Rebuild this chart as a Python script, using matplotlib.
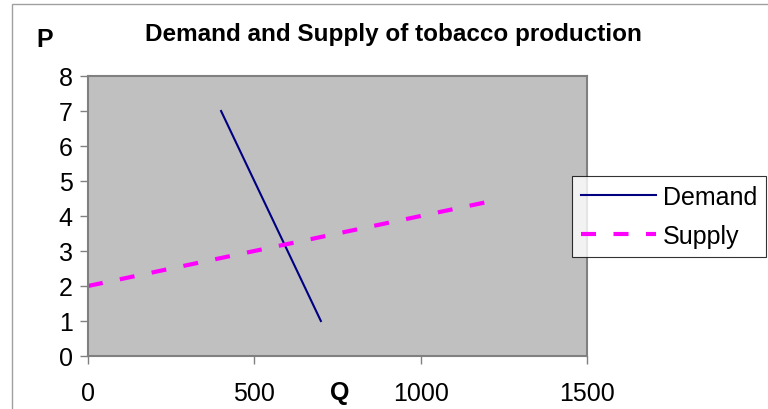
import matplotlib
matplotlib.use('Agg')
from matplotlib import pyplot as plt
from matplotlib.patches import Rectangle

plt.rcParams['font.family'] = ['Liberation Sans', 'DejaVu Sans']

# data
demand_q = [400, 700]
demand_p = [7, 1]
supply_q = [0, 1200]
supply_p = [2, 4.4]
x_ticks = [0, 500, 1000, 1500]
y_ticks = [0, 1, 2, 3, 4, 5, 6, 7, 8]

W, H = 768, 410
fig = plt.figure(figsize=(W / 100, H / 100), dpi=100)

# outer chart border
fig.patches.append(Rectangle((12 / W, -0.1), 1.2, 1 - 5 / H + 0.1,
                             transform=fig.transFigure, fill=False,
                             edgecolor='#a0a0a0', linewidth=1.0))

ax = fig.add_axes([88 / W, 1 - 357 / H, (587 - 88) / W, (357 - 77) / H])
ax.set_facecolor('#c0c0c0')

ax.plot(demand_q, demand_p, color='#000080', linewidth=1.5, label='Demand')
ax.plot(supply_q, supply_p, color='#ff00ff', linewidth=3,
        linestyle=(0, (3.6, 4.2)), label='Supply')

ax.set_xlim(0, 1500)
ax.set_ylim(0, 8)
ax.set_xticks(x_ticks)
ax.set_yticks(y_ticks)
for s in ax.spines.values():
    s.set_color('#808080')
    s.set_linewidth(1.5)
ax.tick_params(axis='both', colors='#808080', labelcolor='black',
               labelsize=18, length=6, width=1)
ax.tick_params(axis='x', pad=12)
ax.tick_params(axis='y', pad=5)

fig.text(393 / W, 1 - 34 / H, 'Demand and Supply of tobacco production',
         ha='center', va='center', fontsize=17.5, fontweight='bold')
fig.text(45 / W, 1 - 40 / H, 'P', ha='center', va='center',
         fontsize=18, fontweight='bold')
fig.text(340 / W, 1 - 393 / H, 'Q', ha='center', va='center',
         fontsize=18, fontweight='bold')

leg = fig.legend(loc='upper left', bbox_to_anchor=(572 / W, 1 - 177 / H),
                 fontsize=18, frameon=True, fancybox=False, handlelength=3.0,
                 handletextpad=0.3, borderaxespad=0, borderpad=0.35,
                 labelspacing=0.6)
leg.get_frame().set_edgecolor('black')
leg.get_frame().set_linewidth(0.8)

plt.savefig('out.png', dpi=100)
